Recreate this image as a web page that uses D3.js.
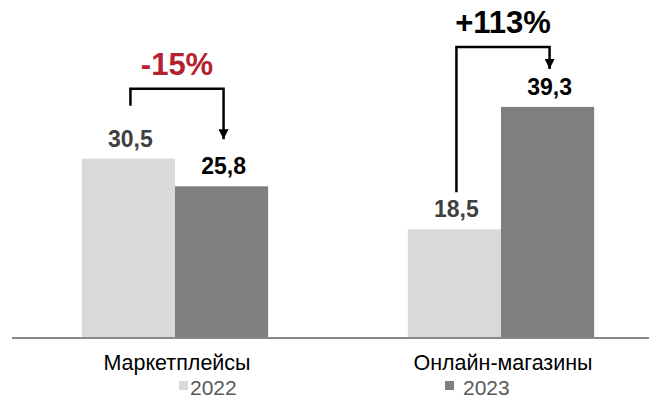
<!DOCTYPE html>
<html>
<head>
<meta charset="utf-8">
<script src="https://cdn.jsdelivr.net/npm/d3@7"></script>
<style>
  body { margin: 0; background: #fff; }
  svg { display: block; font-family: "Liberation Sans", Arial, sans-serif; }
</style>
</head>
<body>
<svg id="chart"></svg>
<script>
const width = 649;
const height = 401;

// data
const categories = ["Маркетплейсы", "Онлайн-магазины"];
const years = ["2022", "2023"];
const values2022 = [30.5, 18.5];
const values2023 = [25.8, 39.3];
const changeLabels = ["-15%", "+113%"];

const barColor = { "2022": "#d9d9d9", "2023": "#7f7f7f" };
const labelColor = { "2022": "#404040", "2023": "#000000" };
const changeColor = ["#b5222f", "#000000"];

// bracket gaps above bars (px): top line, start of left leg, arrow tip
const bracketTopGap = [70, 60];
const bracketStartGap = [53, 37];
const bracketEndGap = [47, 38];

const svg = d3.select("#chart").attr("width", width).attr("height", height);

const x0 = d3.scaleBand().domain(categories).range([12, 664]);
const x1 = d3.scaleBand().domain(years).range([0, x0.bandwidth()]).paddingOuter(0.75);
const y = d3.scaleLinear().domain([0, 50]).range([338, 44]);

const rows = categories.map((c, i) => ({
  category: c,
  bars: [
    { year: "2022", value: values2022[i] },
    { year: "2023", value: values2023[i] }
  ],
  change: changeLabels[i],
  idx: i
}));

const groups = svg.selectAll(".group")
  .data(rows)
  .join("g")
  .attr("class", "group")
  .attr("transform", d => `translate(${x0(d.category)},0)`);

groups.selectAll("rect")
  .data(d => d.bars)
  .join("rect")
  .attr("x", d => x1(d.year))
  .attr("y", d => y(d.value))
  .attr("width", x1.bandwidth())
  .attr("height", d => y(0) - y(d.value))
  .attr("fill", d => barColor[d.year]);

groups.selectAll(".val")
  .data(d => d.bars)
  .join("text")
  .attr("class", "val")
  .attr("x", d => x1(d.year) + x1.bandwidth() / 2 + 2)
  .attr("y", d => y(d.value) - 12)
  .attr("text-anchor", "middle")
  .attr("font-size", 23)
  .attr("font-weight", "bold")
  .attr("fill", d => labelColor[d.year])
  .text(d => String(d.value).replace(".", ","));

// axis baseline
svg.append("line")
  .attr("x1", 12).attr("x2", width)
  .attr("y1", y(0)).attr("y2", y(0))
  .attr("stroke", "#898989")
  .attr("stroke-width", 2);

// category labels
svg.selectAll(".cat")
  .data(categories)
  .join("text")
  .attr("class", "cat")
  .attr("x", d => x0(d) + x0.bandwidth() / 2 + 2)
  .attr("y", 370)
  .attr("text-anchor", "middle")
  .attr("font-size", 21.5)
  .attr("fill", "#000")
  .text(d => d);

// change brackets
svg.append("defs").append("marker")
  .attr("id", "arrow")
  .attr("viewBox", "0 0 10 10")
  .attr("refX", 10).attr("refY", 5)
  .attr("markerWidth", 4).attr("markerHeight", 4)
  .attr("orient", "auto")
  .append("path")
  .attr("d", "M0,0L10,5L0,10Z")
  .attr("fill", "#000");

rows.forEach(d => {
  const i = d.idx;
  const g = x0(d.category);
  const xa = g + x1("2022") + x1.bandwidth() / 2 + 2;
  const xb = g + x1("2023") + x1.bandwidth() / 2 + 2;
  const top = Math.min(y(d.bars[0].value), y(d.bars[1].value)) - bracketTopGap[i];
  const startY = y(d.bars[0].value) - bracketStartGap[i];
  const endY = y(d.bars[1].value) - bracketEndGap[i];
  svg.append("path")
    .attr("d", `M${xa},${startY}V${top}H${xb}V${endY}`)
    .attr("fill", "none")
    .attr("stroke", "#000")
    .attr("stroke-width", 2.5)
    .attr("marker-end", "url(#arrow)");
  svg.append("text")
    .attr("x", (xa + xb) / 2)
    .attr("y", top - 14)
    .attr("text-anchor", "middle")
    .attr("font-size", 31)
    .attr("font-weight", "bold")
    .attr("fill", changeColor[i])
    .text(d.change);
});

// legend
const legendX = [179, 445];
const legend = svg.selectAll(".leg")
  .data(years)
  .join("g")
  .attr("class", "leg")
  .attr("transform", (d, i) => `translate(${legendX[i]},381)`);
legend.append("rect")
  .attr("width", 9).attr("height", 9)
  .attr("fill", d => barColor[d]);
legend.append("text")
  .attr("x", (d, i) => i === 0 ? 11 : 18)
  .attr("y", 14)
  .attr("font-size", 21)
  .attr("fill", "#595959")
  .text(d => d);
</script>
</body>
</html>
